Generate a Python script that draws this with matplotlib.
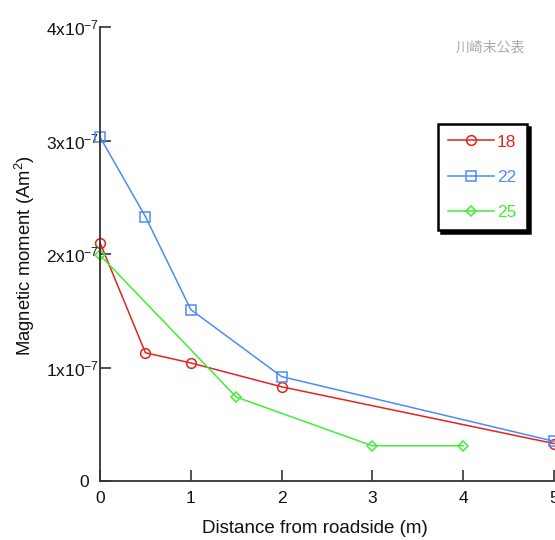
import matplotlib
matplotlib.use("Agg")
import matplotlib.pyplot as plt

plt.rcParams['font.family'] = ['Liberation Sans', 'DejaVu Sans']
plt.rcParams['mathtext.fontset'] = 'custom'
plt.rcParams['mathtext.rm'] = 'Liberation Sans'
plt.rcParams['mathtext.it'] = 'Liberation Sans'
plt.rcParams['mathtext.default'] = 'regular'

x18 = [0, 0.5, 1, 2, 5]
y18 = [2.1e-7, 1.13e-7, 1.04e-7, 0.83e-7, 0.33e-7]
x22 = [0, 0.5, 1, 2, 5]
y22 = [3.03e-7, 2.33e-7, 1.51e-7, 0.92e-7, 0.35e-7]
x25 = [0, 1.5, 3, 4]
y25 = [1.99e-7, 0.74e-7, 0.31e-7, 0.31e-7]

yticks = [0, 1e-7, 2e-7, 3e-7, 4e-7]
ytick_labels = ['0  ', r'1x10$^{-7}$', r'2x10$^{-7}$', r'3x10$^{-7}$', r'4x10$^{-7}$']
xticks = [0, 1, 2, 3, 4, 5]

fig = plt.figure(figsize=(5.55, 5.4), dpi=100)
ax = fig.add_axes([100/555, 59/540, 454/555, 454/540])

red = '#e2231f'
blue = '#4d8cf5'
green = '#40ee35'

ax.plot(x18, y18, color=red, marker='o', mfc='none', ms=7, mew=1.1, lw=1.1, label='18', clip_on=False)
ax.plot(x22, y22, color=blue, marker='s', mfc='none', ms=7.5, mew=1.1, lw=1.1, label='22', clip_on=False)
ax.plot(x25, y25, color=green, marker='D', mfc='none', ms=5, mew=1.1, lw=1.1, label='25', clip_on=False)

ax.set_xlim(0, 5)
ax.set_ylim(0, 4e-7)
ax.set_xticks(xticks)
ax.set_xticklabels([str(t) for t in xticks])
ax.set_yticks(yticks)
ax.set_yticklabels(ytick_labels)
for s in ['top', 'right']:
    ax.spines[s].set_visible(False)
for s in ['left', 'bottom']:
    ax.spines[s].set_color('#333333')
    ax.spines[s].set_linewidth(1.3)
ax.tick_params(direction='in', length=8, width=1.2, color='#333333', labelsize=12.5, labelcolor='#111111')
ax.tick_params(axis='x', pad=7)
ax.tick_params(axis='y', pad=0.5)

ax.set_xlabel('Distance from roadside (m)', fontsize=13.5, color='#111111')
ax.xaxis.set_label_coords((315-100)/454, -(520-481)/454)
ax.set_ylabel(r'Magnetic moment (Am$^2$)', fontsize=13.3, color='#111111')
ax.yaxis.set_label_coords(-(100-37)/454, (481-255)/454)

leg = ax.legend(loc='upper left', bbox_to_anchor=((438-100)/454, (481-124)/454),
                frameon=True, fancybox=False, shadow={'color': 'black', 'alpha': 1.0},
                edgecolor='black', fontsize=12.5, labelcolor='linecolor',
                handlelength=2.6, handletextpad=0.2, labelspacing=1.15,
                borderpad=0.6, borderaxespad=0)
leg.get_frame().set_linewidth(1.8)

fig.text(490/555, 1 - 48/540, '川崎末公表', fontsize=10, color='#aaaaaa', ha='center', va='center',
         family=['Noto Sans CJK JP', 'DejaVu Sans'])

fig.savefig('out.png', dpi=100)
